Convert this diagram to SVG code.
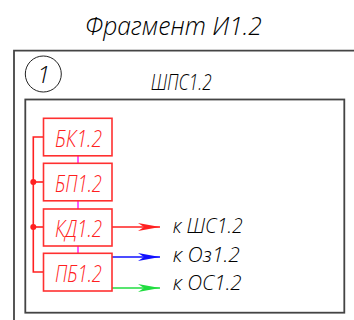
<svg xmlns="http://www.w3.org/2000/svg" width="354" height="320" viewBox="0 0 354 320">
<style>
  text { font-family: "Open Sans", "DejaVu Sans", "Liberation Sans", sans-serif; font-style: italic; font-weight: 300; }
  .blk { fill: #000; }
  .red { fill: #ff2020; }
  .box { fill: #fff; stroke: #ff3030; stroke-width: 1.6; }
  .frame { fill: none; stroke: #444; stroke-width: 1.8; }
</style>
<defs>
  <marker id="arR" viewBox="0 0 22 8" refX="22" refY="4" markerWidth="22" markerHeight="8" markerUnits="userSpaceOnUse" orient="auto">
    <path d="M22,4 L0,0 L6,4 L0,8 Z" fill="#ff2020"/>
  </marker>
  <marker id="arB" viewBox="0 0 22 8" refX="22" refY="4" markerWidth="22" markerHeight="8" markerUnits="userSpaceOnUse" orient="auto">
    <path d="M22,4 L0,0 L6,4 L0,8 Z" fill="#1010ff"/>
  </marker>
  <marker id="arG" viewBox="0 0 22 8" refX="22" refY="4" markerWidth="22" markerHeight="8" markerUnits="userSpaceOnUse" orient="auto">
    <path d="M22,4 L0,0 L6,4 L0,8 Z" fill="#20dd40"/>
  </marker>
</defs>
<rect width="354" height="320" fill="#fff"/>

<g id="title">
  <text class="blk" x="85" y="34.5" font-size="25" textLength="177" lengthAdjust="spacingAndGlyphs">Фрагмент И1.2</text>
</g>

<g id="fragment">
  <path class="frame" d="M14,321 V50.7 H355"/>
  <circle cx="43.3" cy="74" r="18" fill="none" stroke="#222" stroke-width="1"/>
  <text class="blk" x="43.5" y="83" font-size="24" text-anchor="middle">1</text>
</g>

<g id="shps">
  <text class="blk" x="150.7" y="89.5" font-size="21.5" textLength="61" lengthAdjust="spacingAndGlyphs">ШПС1.2</text>
  <rect class="frame" x="25.3" y="99.5" width="319" height="213.2"/>
</g>

<g id="connectors">
  <g stroke="#ff30ff" stroke-width="1.6" fill="none">
    <line x1="78" y1="156" x2="78" y2="163"/>
    <line x1="78" y1="201" x2="78" y2="209"/>
    <line x1="78" y1="246" x2="78" y2="253"/>
  </g>
  <g stroke="#ff2020" stroke-width="1.6" fill="none">
    <path d="M43.5,137 H33.3 V272 H43.5"/>
    <line x1="33.3" y1="182" x2="43.5" y2="182"/>
    <line x1="33.3" y1="227" x2="43.5" y2="227"/>
  </g>
  <circle cx="33.3" cy="182" r="3" fill="#ff2020"/>
  <circle cx="33.3" cy="227" r="3" fill="#ff2020"/>
  <line x1="112" y1="227" x2="160" y2="227" stroke="#ff2020" stroke-width="1.4" marker-end="url(#arR)"/>
  <line x1="112" y1="257" x2="160" y2="257" stroke="#1010ff" stroke-width="1.4" marker-end="url(#arB)"/>
  <line x1="112" y1="288" x2="160" y2="288" stroke="#20dd40" stroke-width="1.4" marker-end="url(#arG)"/>
</g>

<g id="bk">
  <rect class="box" x="43.5" y="118.3" width="68.5" height="37.5"/>
  <text class="red" x="55" y="146.5" font-size="24.5" textLength="47" lengthAdjust="spacingAndGlyphs">БК1.2</text>
</g>
<g id="bp">
  <rect class="box" x="43.5" y="163.3" width="68.5" height="37.5"/>
  <text class="red" x="55" y="191.5" font-size="24.5" textLength="47" lengthAdjust="spacingAndGlyphs">БП1.2</text>
</g>
<g id="kd">
  <rect class="box" x="43.5" y="209" width="68.5" height="37"/>
  <text class="red" x="55" y="236.5" font-size="24.5" textLength="47" lengthAdjust="spacingAndGlyphs">КД1.2</text>
</g>
<g id="pb">
  <rect class="box" x="43.5" y="253.3" width="68.5" height="37.7"/>
  <text class="red" x="55" y="282" font-size="24.5" textLength="47" lengthAdjust="spacingAndGlyphs">ПБ1.2</text>
</g>

<g id="labels">
  <text class="blk" x="172.7" y="233.3" font-size="20.5" textLength="70" lengthAdjust="spacingAndGlyphs">к ШС1.2</text>
  <text class="blk" x="172.7" y="261.7" font-size="20.5" textLength="67.3" lengthAdjust="spacingAndGlyphs">к Оз1.2</text>
  <text class="blk" x="172.7" y="290" font-size="20.5" textLength="69" lengthAdjust="spacingAndGlyphs">к ОС1.2</text>
</g>
</svg>
